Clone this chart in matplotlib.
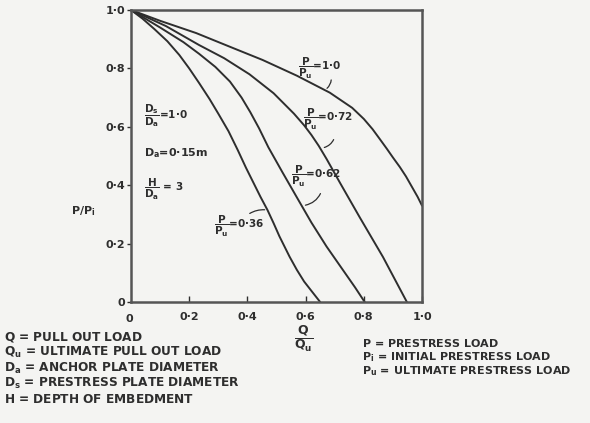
import matplotlib.pyplot as plt

plt.rcParams['font.family'] = ['DejaVu Sans']
plt.rcParams['font.weight'] = 'bold'
plt.rcParams['mathtext.fontset'] = 'dejavusans'
plt.rcParams['mathtext.default'] = 'bf'

# curves: Q/Qu (x) against P/Pi (y)
q_10 = [0, 0.10, 0.224, 0.35, 0.452, 0.57, 0.683, 0.76, 0.80, 0.83, 0.855, 0.879,
        0.90, 0.924, 0.945, 0.965, 0.985, 1.0]
p_10 = [1.0, 0.963, 0.921, 0.87, 0.829, 0.775, 0.717, 0.665, 0.627, 0.592, 0.558, 0.525,
        0.495, 0.462, 0.43, 0.395, 0.36, 0.33]

q_072 = [0, 0.12, 0.234, 0.32, 0.407, 0.49, 0.56, 0.595, 0.62, 0.645, 0.672, 0.72,
         0.786, 0.866, 0.948]
p_072 = [1.0, 0.945, 0.88, 0.835, 0.78, 0.715, 0.645, 0.605, 0.572, 0.535, 0.49, 0.405,
         0.29, 0.154, 0.0]

q_062 = [0, 0.10, 0.18, 0.234, 0.29, 0.34, 0.38, 0.41, 0.44, 0.472, 0.52, 0.569,
         0.62, 0.672, 0.728, 0.77, 0.803]
p_062 = [1.0, 0.94, 0.89, 0.85, 0.805, 0.755, 0.70, 0.65, 0.595, 0.53, 0.445, 0.36,
         0.272, 0.19, 0.11, 0.05, 0.0]

q_036 = [0, 0.04, 0.08, 0.125, 0.166, 0.20, 0.234, 0.27, 0.30, 0.335, 0.367, 0.395,
         0.42, 0.445, 0.469, 0.49, 0.51, 0.545, 0.57, 0.595, 0.624, 0.65]
p_036 = [1.0, 0.97, 0.935, 0.893, 0.846, 0.80, 0.75, 0.695, 0.645, 0.585, 0.52, 0.46,
         0.41, 0.36, 0.315, 0.27, 0.225, 0.155, 0.11, 0.07, 0.033, 0.0]

ticks = [0, 0.2, 0.4, 0.6, 0.8, 1.0]
tick_labels = ['0', '0·2', '0·4', '0·6', '0·8', '1·0']

left_notes = ['$Q$ = PULL OUT LOAD',
              '$Q_u$ = ULTIMATE PULL OUT LOAD',
              '$D_a$ = ANCHOR PLATE DIAMETER',
              '$D_s$ = PRESTRESS PLATE DIAMETER',
              '$H$ = DEPTH OF EMBEDMENT']
right_notes = ['$P$ = PRESTRESS LOAD',
               '$P_i$ = INITIAL PRESTRESS LOAD',
               '$P_u$ = ULTIMATE PRESTRESS LOAD']

ink = '#2e2e2e'
paper = '#f4f4f2'

fig = plt.figure(figsize=(5.9, 4.23), dpi=100, facecolor=paper)
ax = fig.add_axes([131/590, 121/423, 291/590, 292/423], facecolor=paper)

for q, p in [(q_10, p_10), (q_072, p_072), (q_062, p_062), (q_036, p_036)]:
    ax.plot(q, p, color=ink, lw=1.4, solid_capstyle='round', solid_joinstyle='round')

ax.set_xlim(0, 1.0)
ax.set_ylim(0, 1.0)
ax.set_xticks(ticks[1:])
ax.set_xticklabels(tick_labels[1:], fontsize=8)
ax.set_yticks(ticks)
ax.set_yticklabels(tick_labels, fontsize=8)
ax.tick_params(axis='x', direction='in', length=4, width=1, colors=ink, pad=7)
ax.tick_params(axis='y', direction='out', length=3, width=1, colors=ink, pad=1)
for s in ax.spines.values():
    s.set_color('#555555')
    s.set_linewidth(1.8)
ax.text(-0.005, -0.04, '0', transform=ax.transAxes, ha='center', va='top',
        fontsize=8, color=ink)

# curve labels with their little pointer strokes
arc = dict(arrowstyle='-', color=ink, lw=0.9, connectionstyle='arc3,rad=-0.3')
ax.text(0.574, 0.80, r'$\dfrac{P}{P_u}$=1·0', fontsize=7.5, color=ink, va='center')
ax.annotate('', xy=(0.666, 0.726), xytext=(0.688, 0.77), arrowprops=arc)
ax.text(0.59, 0.625, r'$\dfrac{P}{P_u}$=0·72', fontsize=7.5, color=ink, va='center')
ax.annotate('', xy=(0.655, 0.527), xytext=(0.70, 0.565), arrowprops=arc)
ax.text(0.55, 0.43, r'$\dfrac{P}{P_u}$=0·62', fontsize=7.5, color=ink, va='center')
ax.annotate('', xy=(0.59, 0.33), xytext=(0.655, 0.38), arrowprops=arc)
ax.text(0.285, 0.26, r'$\dfrac{P}{P_u}$=0·36', fontsize=7.5, color=ink, va='center')
ax.annotate('', xy=(0.469, 0.315), xytext=(0.40, 0.298),
            arrowprops=dict(arrowstyle='-', color=ink, lw=0.9, connectionstyle='arc3,rad=-0.2'))

ax.text(0.045, 0.64, r'$\dfrac{D_s}{D_a}$=1·0', fontsize=7.5, color=ink, va='center')
ax.text(0.045, 0.51, '$D_a$=0·15m', fontsize=8, color=ink, va='center')
ax.text(0.045, 0.385, r'$\dfrac{H}{D_a}$ = 3', fontsize=7.5, color=ink, va='center')

ax.text(-0.165, 0.31, '$P/P_i$', transform=ax.transAxes, fontsize=8,
        color=ink, ha='center', va='center')
ax.text(0.593, -0.125, r'$\dfrac{Q}{Q_u}$', transform=ax.transAxes, fontsize=9,
        color=ink, ha='center', va='center')

for i, t in enumerate(left_notes):
    fig.text(4/590, 1 - (337 + i*15.5)/423, t, fontsize=8.7, color=ink, va='center')
for i, t in enumerate(right_notes):
    fig.text(362/590, 1 - (343 + i*14)/423, t, fontsize=8, color=ink, va='center')

fig.savefig('out.png', dpi=100, facecolor=paper)
